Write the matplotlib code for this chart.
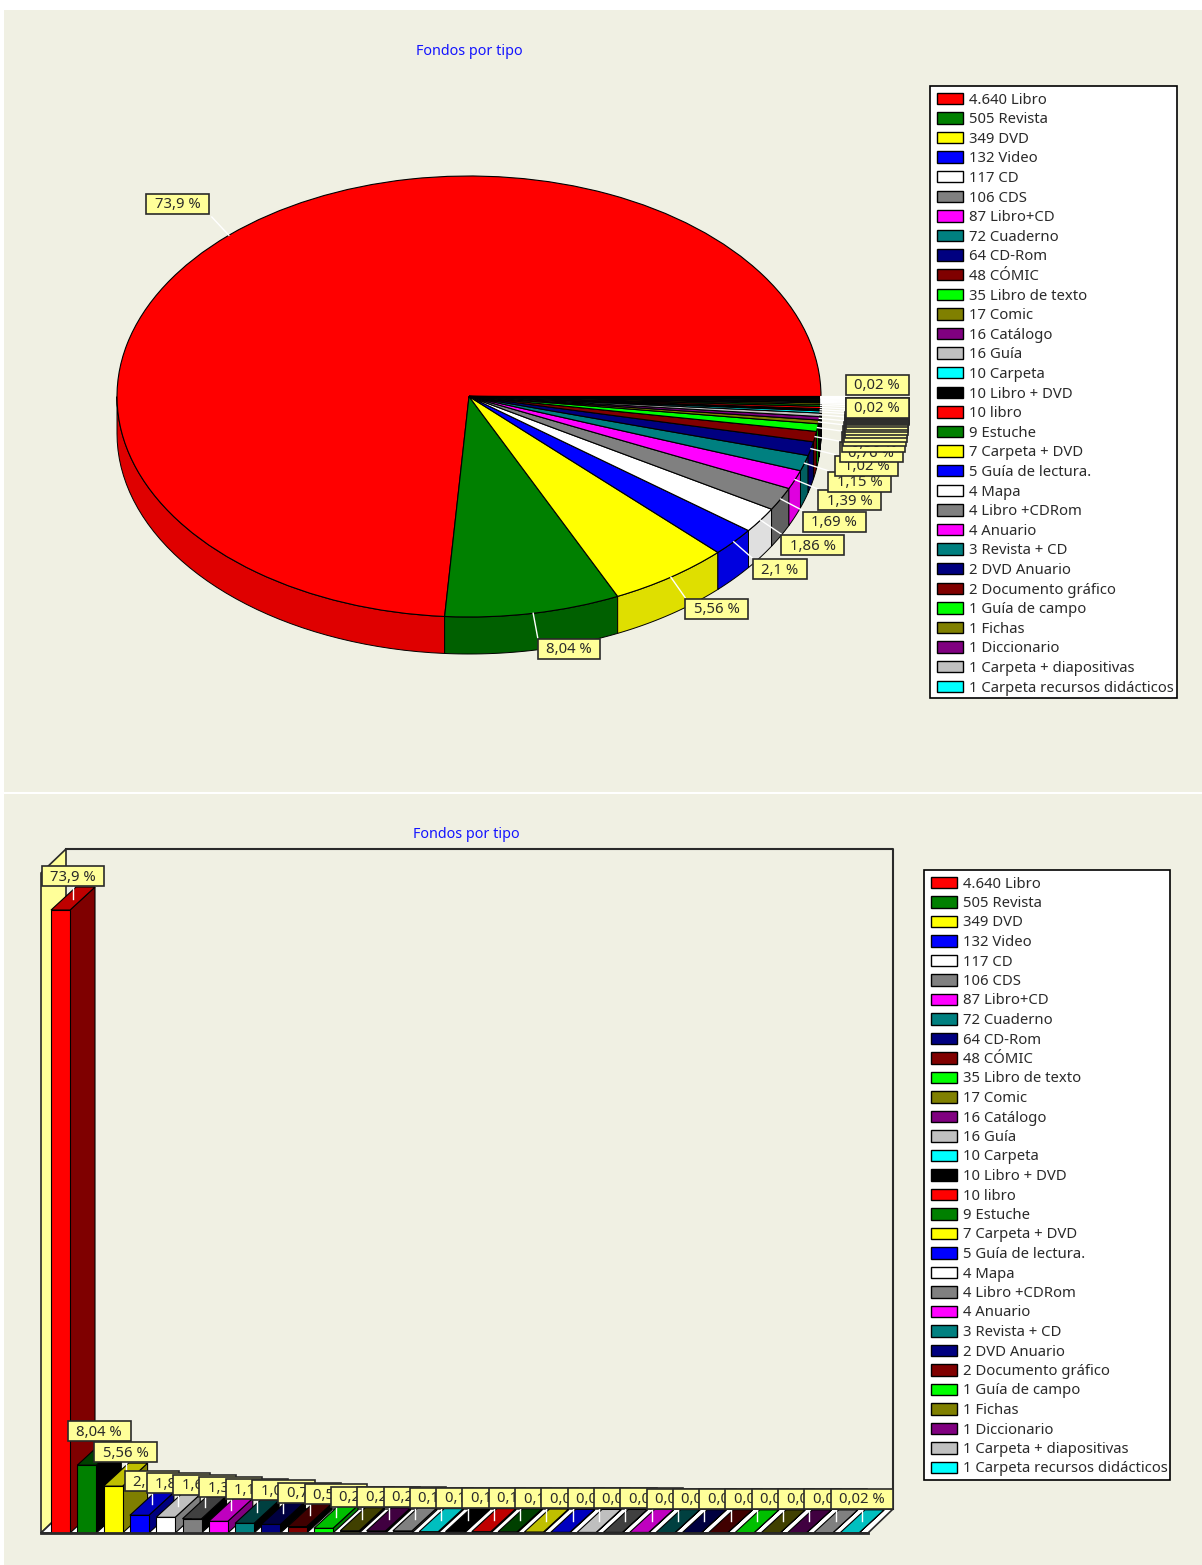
import numpy as np
import matplotlib
matplotlib.use("Agg")
import matplotlib.pyplot as plt
from matplotlib.patches import Rectangle, Polygon
from matplotlib.transforms import Affine2D

# ---- data ----
TITLE = "Fondos por tipo"
categories = ["Libro", "Revista", "DVD", "Video", "CD", "CDS", "Libro+CD", "Cuaderno", "CD-Rom",
              "CÓMIC", "Libro de texto", "Comic", "Catálogo", "Guía", "Carpeta", "Libro + DVD",
              "libro", "Estuche", "Carpeta + DVD", "Guía de lectura.", "Mapa", "Libro +CDRom",
              "Anuario", "Revista + CD", "DVD Anuario", "Documento gráfico", "Guía de campo",
              "Fichas", "Diccionario", "Carpeta + diapositivas", "Carpeta recursos didácticos"]
counts = [4640, 505, 349, 132, 117, 106, 87, 72, 64, 48, 35, 17, 16, 16, 10, 10, 10, 9, 7, 5,
          4, 4, 4, 3, 2, 2, 1, 1, 1, 1, 1]
palette = ["#FF0000", "#008000", "#FFFF00", "#0000FF", "#FFFFFF", "#808080", "#FF00FF", "#008080",
           "#000080", "#800000", "#00FF00", "#808000", "#800080", "#C0C0C0", "#00FFFF", "#000000"]

# ---- style ----
W, H = 1202, 1565
PANEL = "#F0F0E3"
NOTE = "#FFFF99"
FONT = "Noto Sans"
FS = 10.7
BLUE = "#1414FF"
INK = "#2A2A2A"
plt.rcParams["font.family"] = [FONT, "DejaVu Sans"]

counts = np.array(counts, dtype=float)
total = counts.sum()
pct = 100 * counts / total
colors = [palette[i % len(palette)] for i in range(len(counts))]
pct_labels = [f"{round(p, 2):g}".replace(".", ",") + " %" for p in pct]
legend_labels = [f"{int(c):,}".replace(",", ".") + " " + n for c, n in zip(counts, categories)]


def dark(color, amount):
    r, g, b = matplotlib.colors.to_rgb(color)
    return tuple(max(0, v - amount / 255) for v in (r, g, b))


fig = plt.figure(figsize=(W / 100, H / 100), dpi=100, facecolor="white")
px = Affine2D().scale(1, -1).translate(0, H)   # pixel coords, y downward


def rect_axes(x0, y0, x1, y1):
    a = fig.add_axes([x0 / W, (H - y1) / H, (x1 - x0) / W, (y1 - y0) / H])
    a.patch.set_visible(False)
    a.set_axis_off()
    return a


# panels
fig.add_artist(Rectangle((4, 10), W - 4, 782, transform=px, fc=PANEL, ec="none", zorder=-5))
fig.add_artist(Rectangle((4, 794), W - 4, H - 794, transform=px, fc=PANEL, ec="none", zorder=-5))

renderer = fig.canvas.get_renderer()


def note(ax, x, y, text, anchor, z):
    """Draw a yellow mark label; (x, y) in pixels, anchor is where that point sits on the box."""
    t = ax.text(0, 0, text, transform=px, fontsize=FS, color=INK, ha="center", va="center",
                zorder=z + 0.005, clip_on=False)
    w = t.get_window_extent(renderer).width + 17
    h = 20
    if anchor == "tl":
        left, top = x, y
    elif anchor == "br":
        left, top = x - w, y - h
    else:  # bottom centre
        left, top = x - w / 2, y - h
    ax.add_patch(Rectangle((left, top), w, h, transform=px, fc=NOTE, ec=INK, lw=1.2,
                           zorder=z, clip_on=False))
    t.set_position((left + w / 2, top + h / 2 + 1))


def legend_block(ax, box, swatch_x, first_row_y, pitch=19.6):
    x0, y0, x1, y1 = box
    ax.add_patch(Rectangle((x0, y0), x1 - x0, y1 - y0, transform=px, fc="white", ec="black", lw=1.2,
                           zorder=50, clip_on=False))
    handles = [Rectangle((0, 0), 1, 1, fc=c, ec="black", lw=1) for c in colors]
    fpx = FS * 100 / 72

    def build(spacing, top):
        leg = ax.legend(handles, legend_labels, loc="upper left",
                        bbox_to_anchor=(swatch_x, top), bbox_transform=px, frameon=False,
                        fontsize=FS, borderpad=0, borderaxespad=0, labelspacing=spacing,
                        handlelength=26 / fpx, handleheight=12 / fpx, handletextpad=6 / fpx,
                        labelcolor=INK)
        leg.set_zorder(51)
        fig.canvas.draw()
        ex = [t.get_window_extent(renderer) for t in leg.get_texts()]
        return leg, ex

    s = 0.4
    top = first_row_y
    for _ in range(3):
        leg, ex = build(s, top)
        p = (ex[0].y1 + ex[0].y0 - ex[-1].y1 - ex[-1].y0) / 2 / (len(ex) - 1)
        s += (pitch - p) / fpx
        leg, ex = build(s, top)
        cy = H - (ex[0].y0 + ex[0].y1) / 2
        top += first_row_y - cy
    leg, ex = build(s, top)
    return leg


# ---------- pie ----------
RX, RY = 352, 220.5
DEPTH = 37
LEAD = 25
ax_pie = rect_axes(469 - RX, 396.5 - RY, 469 + RX, 396.5 + RY)
wedges, _ = ax_pie.pie(counts, colors=colors, startangle=0, counterclock=True, radius=1,
                       wedgeprops=dict(edgecolor="black", linewidth=0.8, zorder=3))
ax_pie.set_aspect("auto")
ax_pie.set_xlim(-1, 1)
ax_pie.set_ylim(-1, 1)
ax_pie.set_axis_off()

edges = np.concatenate([[0], np.cumsum(pct) * 3.6])
d = DEPTH / RY
for a, b, c in zip(edges[:-1], edges[1:], colors):
    lo, hi = max(a, 180), min(b, 360)
    if hi <= lo:
        continue
    t = np.radians(np.linspace(lo, hi, 40))
    top_arc = np.column_stack([np.cos(t), np.sin(t)])
    low_arc = np.column_stack([np.cos(t), np.sin(t) - d])[::-1]
    ax_pie.add_patch(Polygon(np.vstack([top_arc, low_arc]), closed=True, fc=dark(c, 32), ec="black",
                             lw=0.7, zorder=2, clip_on=False))

for i, (a, b, lab) in enumerate(zip(edges[:-1], edges[1:], pct_labels)):
    th = np.radians((a + b) / 2)
    ex, ey = 469 + RX * np.cos(th), 396.5 - RY * np.sin(th)
    lx, ly = ex + LEAD * np.cos(th), ey - LEAD * np.sin(th)
    z = 10 + i * 0.02
    ax_pie.plot([ex, lx], [ey, ly], transform=px, color="white", lw=1, zorder=5, clip_on=False)
    if np.cos(th) < 0:
        note(ax_pie, lx - 3, ly - 3, lab, "br", z)
    elif i == len(counts) - 1:
        note(ax_pie, lx, ly - 22, lab, "tl", z)
    else:
        note(ax_pie, lx, ly + 1, lab, "tl", z)

ax_pie.text(469, 51.5, TITLE, transform=px, color=BLUE, fontsize=FS - 0.4, ha="center", va="center",
            clip_on=False)
legend_block(ax_pie, (930, 86, 1177, 698), 937, 100)

# ---------- bars ----------
BX0, BX1, BY0, BY1 = 41, 868, 873, 1533
STEP = 26.3
PXU = 8.43
ax_bar = rect_axes(BX0, BY0, BX1, BY1)
ax_bar.set_xlim((BX0 - 60.5) / STEP, (BX1 - 60.5) / STEP)
ax_bar.set_ylim(0, (BY1 - BY0) / PXU)
WALL_DX, WALL_DY = 25 / STEP, 24 / PXU
xl, xr = ax_bar.get_xlim()
yt = ax_bar.get_ylim()[1]

# left wall, floor, back frame
ax_bar.add_patch(Polygon([(xl, 0), (xl + WALL_DX, WALL_DY), (xl + WALL_DX, yt + WALL_DY), (xl, yt)],
                         closed=True, fc=NOTE, ec=INK, lw=1.2, zorder=1, clip_on=False))
ax_bar.add_patch(Polygon([(xl, 0), (xr, 0), (xr + WALL_DX, WALL_DY), (xl + WALL_DX, WALL_DY)],
                         closed=True, fc="white", ec=INK, lw=1.2, zorder=1, clip_on=False))
ax_bar.plot([xl + WALL_DX, xr + WALL_DX, xr + WALL_DX], [yt + WALL_DY, yt + WALL_DY, WALL_DY],
            color=INK, lw=1.5, zorder=1, clip_on=False)

BW = 19 / STEP
DX, DY = 25 / STEP, 23 / PXU
xs = np.arange(len(counts))
for i, (x, v, c) in enumerate(zip(xs, pct, colors)):
    z = 2 + i * 0.01
    l, r = x - BW / 2, x + BW / 2
    ax_bar.add_patch(Polygon([(r, 0), (r + DX, DY), (r + DX, v + DY), (r, v)], closed=True,
                             fc=dark(c, 128), ec="black", lw=0.8, zorder=z, clip_on=False))
    ax_bar.add_patch(Polygon([(l, v), (r, v), (r + DX, v + DY), (l + DX, v + DY)], closed=True,
                             fc=dark(c, 64), ec="black", lw=0.8, zorder=z, clip_on=False))
    ax_bar.bar(x, v, width=BW, color=c, edgecolor="black", linewidth=0.8, zorder=z + 0.001,
               clip_on=False)
ax_bar.plot([xl, xr], [0, 0], color=INK, lw=2, zorder=4, clip_on=False)

for i, (x, v, lab) in enumerate(zip(xs, pct, pct_labels)):
    cx, cy = ax_bar.transData.transform((x + DX / 2, v + DY / 2))
    cy = H - cy
    z = 10 + i * 0.02
    ax_bar.plot([cx, cx], [cy, cy - 12.5], transform=px, color="white", lw=1, zorder=5, clip_on=False)
    note(ax_bar, cx, cy - 12.5, lab, "bc", z)

ax_bar.text(466, 835, TITLE, transform=px, color=BLUE, fontsize=FS - 0.4, ha="center", va="center",
            clip_on=False)
legend_block(ax_bar, (924, 870, 1170, 1480), 931, 884, pitch=19.5)

fig.savefig("out.png", dpi=100, facecolor="white")
